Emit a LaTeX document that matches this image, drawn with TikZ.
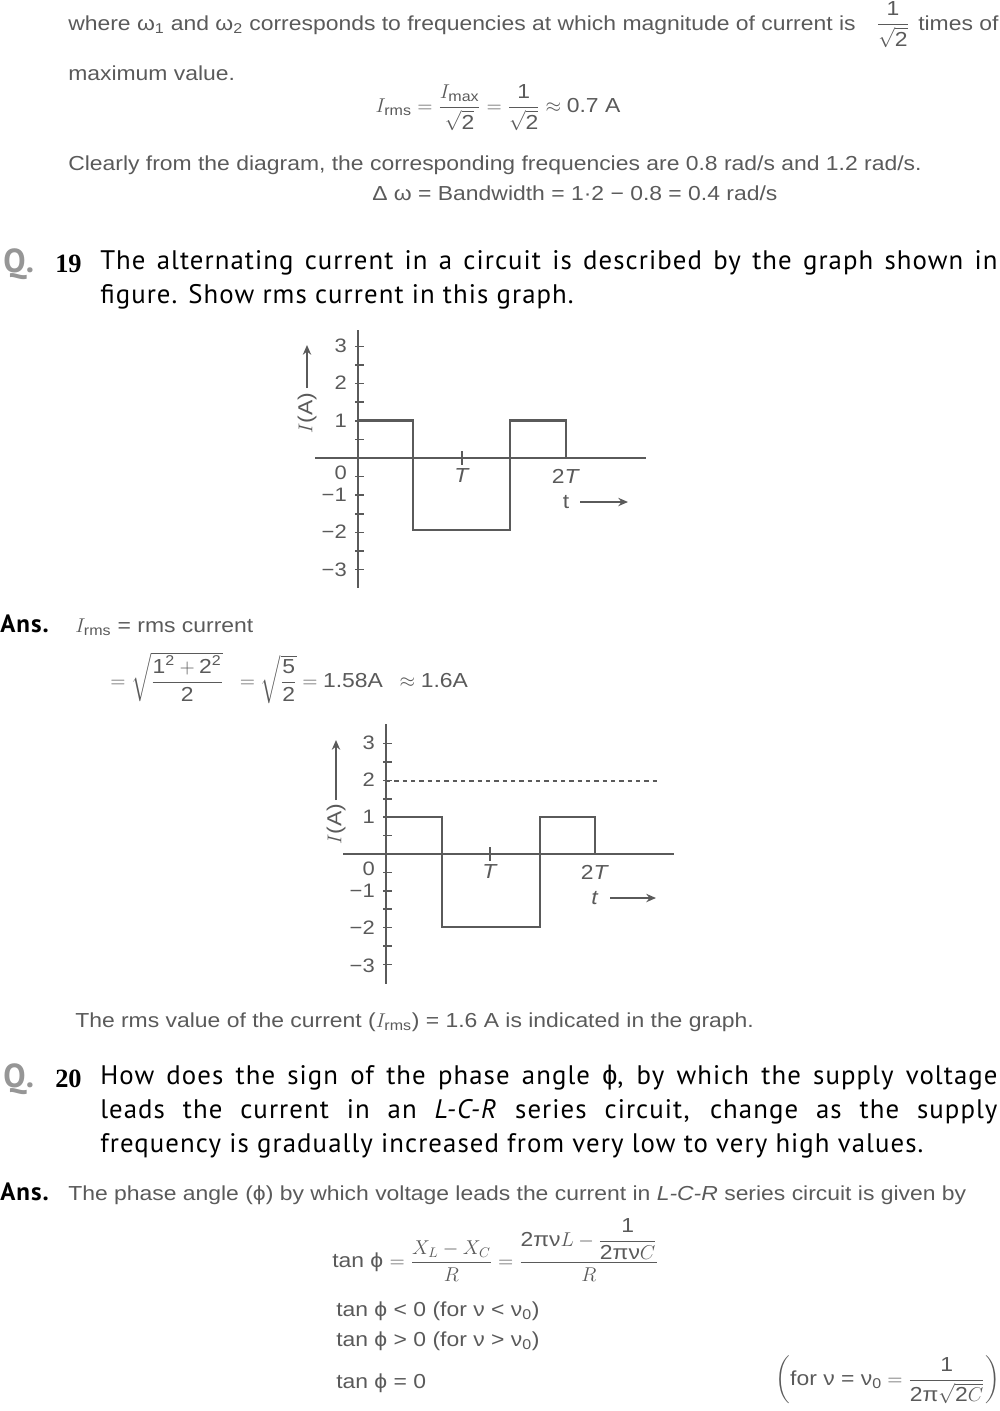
\documentclass[tikz,border=0pt]{standalone}
\usepackage{amsmath}
\usepackage{fontspec}
\setmainfont{Liberation Sans}[FakeStretch=1.13]
\newfontfamily\qfont{PT Sans}[LetterSpace=4]
\newfontfamily\symfont{Liberation Sans}
\newfontfamily\numfont{Liberation Serif}
\usetikzlibrary{arrows.meta,positioning}
\definecolor{bookgray}{RGB}{90,90,90}
\definecolor{qgray}{RGB}{150,150,150}

\begin{document}
\begin{tikzpicture}[x=0.72pt,y=-0.72pt,
		% Text styles
		body/.style={anchor=base west, inner sep=0pt, font=\fontsize{14.6}{17}\selectfont, text=bookgray},
		question/.style={anchor=north west, inner sep=0pt, text width=646pt, align=justify,
				font=\qfont\fontsize{19.3}{24.5}\selectfont},
		qmark/.style={anchor=base west, inner sep=0pt, text=qgray, font=\qfont\bfseries\fontsize{24}{24}\selectfont},
		qnum/.style={anchor=base west, inner sep=0pt, font=\numfont\bfseries\fontsize{19}{19}\selectfont},
		ans/.style={anchor=base west, inner sep=0pt, font=\qfont\bfseries\fontsize{18}{18}\selectfont},
		eq/.style={inner sep=0pt, font=\fontsize{14.6}{17}\selectfont, text=bookgray},
		ticklabel/.style={anchor=east, inner sep=0pt, font=\fontsize{14}{14}\selectfont, text=bookgray},
		curve/.style={line width=1.9pt, bookgray},
		axis/.style={line width=1.1pt, bookgray},
		arrowline/.style={-{Stealth[length=7pt,width=6pt]}, line width=1.1pt, bookgray},
	]
	\useasboundingbox (0,0) rectangle (1000,1411);

	% Top of page: end of previous answer
	\node[body] (line1) at (68,30) {where ω\textsubscript{1} and ω\textsubscript{2} corresponds to frequencies at which magnitude of current is};
	\node[eq] (frac1) at (893,25) {$\dfrac{\text{1}}{\sqrt{\text{2}}}$};
	\node[body] (line1b) at (918,30) {times of};
	\node[body] (line2) at (68,80) {maximum value.};
	\node[eq] (irms) at (498,108) {$I_{\text{rms}}=\dfrac{I_{\text{max}}}{\sqrt{\text{2}}}=\dfrac{\text{1}}{\sqrt{\text{2}}}\approx\text{0.7 A}$};
	\node[body] (line3) at (68,170) {Clearly from the diagram, the corresponding frequencies are 0.8 rad/s and 1.2 rad/s.};
	\node[body] (line4) at (372,200) {Δ ω = Bandwidth = 1·2 − 0.8 = 0.4 rad/s};

	% Question 19
	\node[qmark] (q19) at (3,272) {Q.};
	\node[qnum] (q19n) at (55,272) {19};
	\node[question] (q19t) at (100,250) {The alternating current in a circuit is described by the graph shown in figure. Show rms current in this graph.};

	% First graph
	\begin{scope}[shift={(358,458)}]
		\draw[axis] (-43,0) -- (288,0);
		\draw[axis] (0,-128) -- (0,130);
		\foreach \k in {-6,...,6} \draw[axis] (-3,\k*18.6) -- (6,\k*18.6);
		\foreach \v/\y in {3/-112,2/-75,1/-37,0/15,−1/37,−2/74,−3/112}
			\node[ticklabel] at (-11,\y) {\v};
		\draw[curve] (0,0) -- (0,-37.2) -- (55,-37.2) -- (55,72) -- (152,72) -- (152,-37.2) -- (208,-37.2) -- (208,0);
		\draw[axis] (104,-7) -- (104,7);
		\node[eq] (g1T) at (104,18) {\textit{T}};
		\node[eq] (g1TT) at (208,18) {2\textit{T}};
		\node[eq] (g1t) at (208,44) {t};
		\coordinate (g1ta) at (222,44);
		\coordinate (g1tb) at (270,44);
		\draw[arrowline] (g1ta) -- (g1tb);
		\coordinate (g1ya) at (-51,-70);
		\coordinate (g1yb) at (-51,-113);
		\draw[arrowline] (g1ya) -- (g1yb);
		\node[eq, rotate=90] (g1I) at (-51,-45) {$I$(A)};
	\end{scope}

	% Answer 19
	\node[ans] (ans19) at (0,632) {Ans.};
	\node[body] (ans19a) at (75,632) {$I_{\text{rms}}$ = rms current};
	\node[eq, anchor=west] (ans19b) at (110,678) {$=\sqrt{\dfrac{\text{1}^{\text{2}}+\text{2}^{\text{2}}}{\text{2}}}\;\; =\sqrt{\dfrac{\text{5}}{\text{2}}}=\text{1.58A}\;\;\approx\text{1.6A}$};

	% Second graph
	\begin{scope}[shift={(386,854)}]
		\draw[axis] (-43,0) -- (288,0);
		\draw[axis] (0,-130) -- (0,130);
		\foreach \k in {-6,...,6} \draw[axis] (-3,\k*18.4) -- (6,\k*18.4);
		\foreach \v/\y in {3/-111,2/-74,1/-37,0/15,−1/37,−2/74,−3/112}
			\node[ticklabel] at (-11,\y) {\v};
		\draw[curve, dashed, line width=1.1pt] (0,-73) -- (274,-73);
		\draw[curve] (0,0) -- (0,-37) -- (56,-37) -- (56,73) -- (154,73) -- (154,-37) -- (209,-37) -- (209,0);
		\draw[axis] (104,-7) -- (104,7);
		\node[eq] (g2T) at (104,18) {\textit{T}};
		\node[eq] (g2TT) at (209,18) {2\textit{T}};
		\node[eq] (g2t) at (209,44) {\textit{t}};
		\coordinate (g2ta) at (224,44);
		\coordinate (g2tb) at (270,44);
		\draw[arrowline] (g2ta) -- (g2tb);
		\coordinate (g2ya) at (-50,-54);
		\coordinate (g2yb) at (-50,-114);
		\draw[arrowline] (g2ya) -- (g2yb);
		\node[eq, rotate=90] (g2I) at (-50,-30) {$I$(A)};
	\end{scope}

	\node[body] (ans19c) at (75,1027) {The rms value of the current ($I_{\text{rms}}$) = 1.6 A is indicated in the graph.};

	% Question 20
	\node[qmark] (q20) at (3,1087) {Q.};
	\node[qnum] (q20n) at (55,1087) {20};
	\node[question] (q20t) at (100,1065) {How does the sign of the phase angle {\symfont ϕ}, by which the supply voltage\linebreak leads the current in an \textit{L-C-R} series circuit, change as the supply\linebreak frequency is gradually increased from very low to very high values.};

	% Answer 20
	\node[ans] (ans20) at (0,1200) {Ans.};
	\node[body] (ans20a) at (68,1200) {The phase angle (ϕ) by which voltage leads the current in \textit{L-C-R} series circuit is given by};
	\node[eq, anchor=west] (tanphi) at (332,1250) {tan ϕ $=\dfrac{X_L-X_C}{R}=\dfrac{\text{2πν}L-\dfrac{\text{1}}{\text{2πν}C}}{R}$};
	\node[body] (tan1) at (336,1316) {tan ϕ < 0 (for ν < ν\textsubscript{0})};
	\node[body] (tan2) at (336,1346) {tan ϕ > 0 (for ν > ν\textsubscript{0})};
	\node[body] (tan3) at (336,1388) {tan ϕ = 0};
	\node[eq, anchor=east] (res) at (1000,1380) {$\left(\text{for ν = ν}_{\text{0}}=\dfrac{\text{1}}{\text{2π}\sqrt{\text{2}C}}\right)$};
\end{tikzpicture}
\end{document}
